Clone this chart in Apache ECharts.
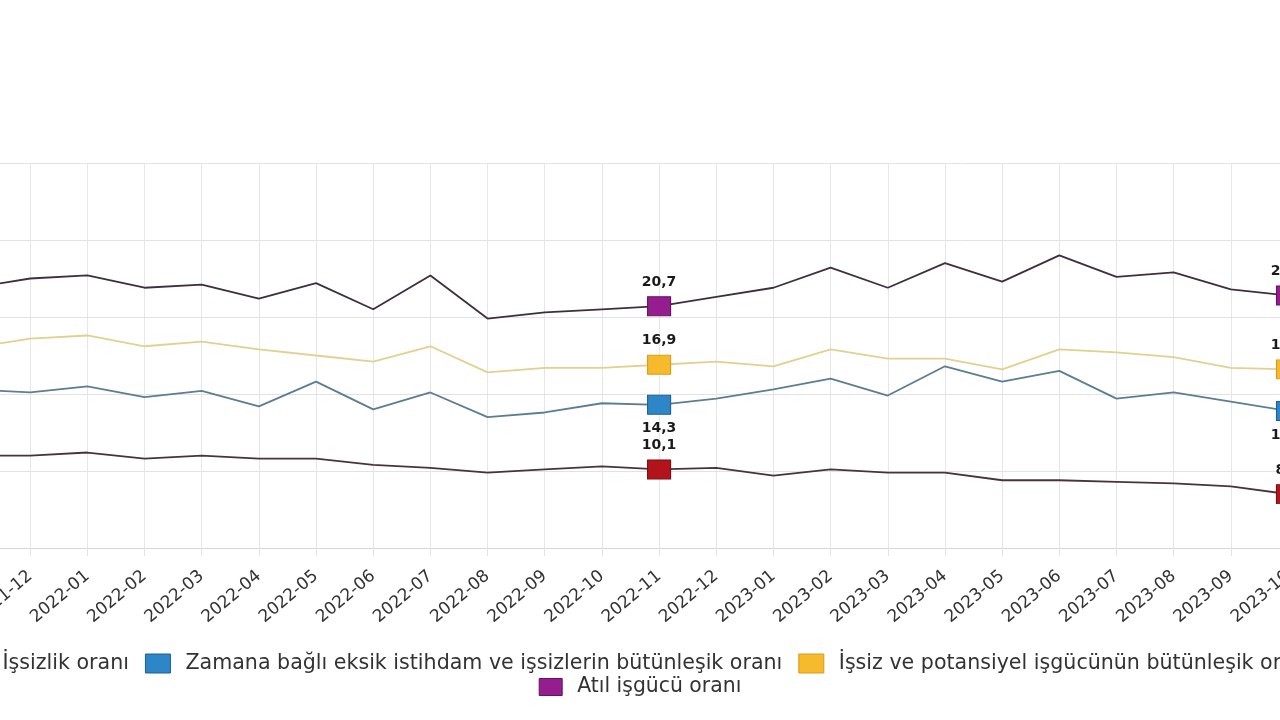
<!DOCTYPE html>
<html>
<head>
<meta charset="utf-8">
<title>Atıl işgücü</title>
<script src="https://cdn.jsdelivr.net/npm/echarts@6/dist/echarts.min.js"></script>
<style>
    html, body { margin: 0; padding: 0; background: #ffffff; }
    #main { width: 1280px; height: 720px; }
</style>
</head>
<body>
<div id="main"></div>
<script>
// aylar
var months = ['2021-11', '2021-12', '2022-01', '2022-02', '2022-03', '2022-04', '2022-05', '2022-06',
    '2022-07', '2022-08', '2022-09', '2022-10', '2022-11', '2022-12', '2023-01', '2023-02',
    '2023-03', '2023-04', '2023-05', '2023-06', '2023-07', '2023-08', '2023-09', '2023-10'];

var issizlik = [11.0, 11.0, 11.2, 10.8, 11.0, 10.8, 10.8, 10.4, 10.2, 9.9, 10.1, 10.3,
    10.1, 10.2, 9.7, 10.1, 9.9, 9.9, 9.4, 9.4, 9.3, 9.2, 9.0, 8.5];
var zamanaBagli = [15.3, 15.1, 15.5, 14.8, 15.2, 14.2, 15.8, 14.0, 15.1, 13.5, 13.8, 14.4,
    14.3, 14.7, 15.3, 16.0, 14.9, 16.8, 15.8, 16.5, 14.7, 15.1, 14.5, 13.9];
var potansiyel = [18.0, 18.6, 18.8, 18.1, 18.4, 17.9, 17.5, 17.1, 18.1, 16.4, 16.7, 16.7,
    16.9, 17.1, 16.8, 17.9, 17.3, 17.3, 16.6, 17.9, 17.7, 17.4, 16.7, 16.6];
var atil = [21.9, 22.5, 22.7, 21.9, 22.1, 21.2, 22.2, 20.5, 22.7, 19.9, 20.3, 20.5,
    20.7, 21.3, 21.9, 23.2, 21.9, 23.5, 22.3, 24.0, 22.6, 22.9, 21.8, 21.4];

// isaretli noktalar (2022-11, 2023-10)
var markedIdx = [12, 23];

var names = ['İşsizlik oranı',
    'Zamana bağlı eksik istihdam ve işsizlerin bütünleşik oranı',
    'İşsiz ve potansiyel işgücünün bütünleşik oranı',
    'Atıl işgücü oranı'];

var FONT = 'DejaVu Sans';

function buildData(values, labelPos) {
    var out = [];
    for (var i = 0; i < values.length; i++) {
        if (markedIdx.indexOf(i) >= 0) {
            out.push({
                value: values[i],
                symbol: 'rect',
                label: { show: true, position: labelPos }
            });
        } else {
            out.push({ value: values[i], symbol: 'none' });
        }
    }
    return out;
}

function makeSeries(name, values, fill, border, lineColor, labelPos) {
    return {
        name: name,
        type: 'line',
        symbol: 'none',
        symbolSize: [23, 19],
        showAllSymbol: true,
        data: buildData(values, labelPos),
        itemStyle: { color: fill, borderColor: border, borderWidth: 1 },
        lineStyle: { color: lineColor, width: 1.8 },
        label: {
            distance: 7,
            fontFamily: FONT,
            fontSize: 14,
            fontWeight: 'bold',
            color: '#1a1a1a',
            formatter: function (p) {
                return p.value.toFixed(1).replace('.', ',');
            }
        },
        emphasis: { disabled: true },
        z: 3
    };
}

var chart = echarts.init(document.getElementById('main'));

var option = {
    animation: false,
    backgroundColor: '#ffffff',
    grid: {
        left: -27,
        right: -8,
        top: 163,
        bottom: 172,
        containLabel: false,
        outerBoundsMode: 'none'
    },
    legend: [{
        data: names.slice(0, 3),
        left: -43,
        top: 648,
        width: 1700,
        icon: 'rect',
        itemWidth: 25,
        itemHeight: 19,
        itemGap: 16,
        itemStyle: { borderWidth: 1 },
        textStyle: { fontFamily: FONT, fontSize: 20.6, color: '#333', padding: [0, 0, 0, 10] }
    }, {
        data: [names[3]],
        left: 'center',
        top: 672,
        icon: 'rect',
        itemWidth: 23,
        itemHeight: 17,
        itemStyle: { borderWidth: 1 },
        textStyle: { fontFamily: FONT, fontSize: 20.4, color: '#333', padding: [0, 0, 0, 10] }
    }],
    xAxis: {
        type: 'category',
        data: months,
        boundaryGap: false,
        axisLine: { lineStyle: { color: '#d6d6d6' } },
        axisTick: { show: true, length: 8, lineStyle: { color: '#e2e2e2' } },
        axisLabel: {
            rotate: 40,
            interval: 0,
            margin: 26,
            fontFamily: FONT,
            fontSize: 17,
            color: '#333'
        },
        splitLine: { show: true, lineStyle: { color: '#e6e6e6', width: 1 } }
    },
    yAxis: {
        type: 'value',
        min: 5,
        max: 30,
        interval: 5,
        axisLabel: { show: false },
        axisLine: { show: false },
        axisTick: { show: false },
        splitLine: { lineStyle: { color: '#e2e2e2', width: 1 } }
    },
    series: [
        makeSeries(names[0], issizlik, '#b3141c', '#7a0d12', '#4a3338', 'top'),
        makeSeries(names[1], zamanaBagli, '#2d86c8', '#1d5f92', '#5d7d93', 'bottom'),
        makeSeries(names[2], potansiyel, '#f6ba2c', '#d99c16', '#e3d08e', 'top'),
        makeSeries(names[3], atil, '#951d8e', '#661261', '#3e2f3d', 'top')
    ]
};

chart.setOption(option);
</script>
</body>
</html>
